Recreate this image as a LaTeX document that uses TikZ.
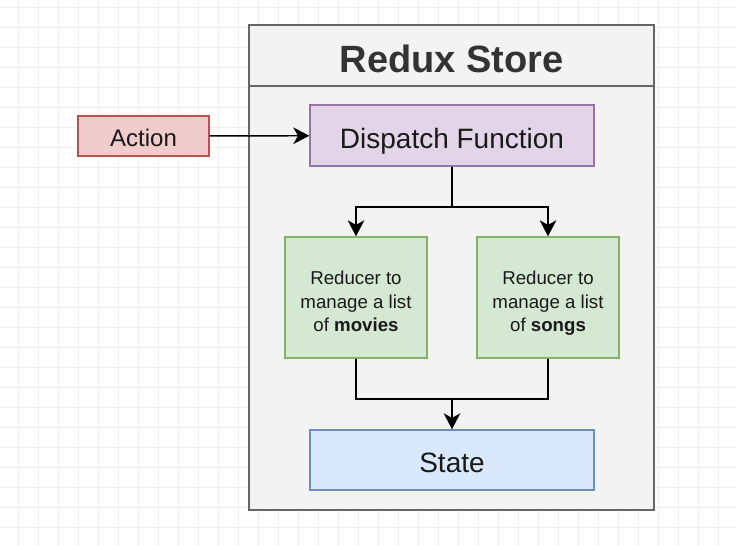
\documentclass[tikz,border=0pt]{standalone}
\usepackage{fontspec}
\setmainfont{Liberation Sans}
\usetikzlibrary{arrows.meta}
\newcommand{\lowered}[2]{\raisebox{-#1}[\height][\depth]{#2}}

\begin{document}
\begin{tikzpicture}[x=0.75pt,y=0.75pt,yscale=-1,xscale=1,
  box/.style={draw,line width=1.1pt,inner sep=0pt,align=center,text=black!90},
  oneline/.style={box,text depth=0pt},
  link/.style={line width=1.1pt},
  tip/.style={link,-{Stealth[length=12pt,width=12.5pt,inset=3.5pt]}}]
\useasboundingbox (0,0) rectangle (736,546);

%Background grid
\begin{scope}
\clip (0,0) rectangle (736,546);
\draw [color={rgb, 255:red, 238; green, 238; blue, 238 }, line width=0.6pt, shift={(18,7)}] (-40,-40) grid [step=20] (740,560);
\end{scope}

%Redux Store container
\draw [color={rgb, 255:red, 102; green, 102; blue, 102 }, fill={rgb, 255:red, 243; green, 243; blue, 243 }, line width=1.3pt] (249,25) rectangle (654,510);
\draw [color={rgb, 255:red, 102; green, 102; blue, 102 }, line width=1.3pt] (249,86) -- (654,86);

% Text Node
\node (title) at (451.5,59) [text={rgb, 255:red, 51; green, 51; blue, 51 }, font={\fontsize{28.5pt}{34pt}\selectfont\bfseries}] {Redux Store};

% Boxes
\node (action) at (143.5,136) [oneline, draw={rgb, 255:red, 184; green, 84; blue, 80 }, fill={rgb, 255:red, 240; green, 204; blue, 204 }, minimum width=98.25pt, minimum height=30pt, font={\fontsize{18pt}{22pt}\selectfont}] {\lowered{1.2pt}{Action}};
\node (dispatch) at (452,135.5) [oneline, draw={rgb, 255:red, 150; green, 115; blue, 166 }, fill={rgb, 255:red, 225; green, 213; blue, 231 }, minimum width=213pt, minimum height=45.75pt, font={\fontsize{21pt}{25pt}\selectfont}] {\lowered{2pt}{Dispatch Function}};
\node (movies) at (356,297.5) [box, draw={rgb, 255:red, 130; green, 179; blue, 102 }, fill={rgb, 255:red, 213; green, 232; blue, 212 }, minimum width=106.5pt, minimum height=90.75pt, font={\fontsize{14pt}{17.5pt}\selectfont}] {\lowered{4.5pt}{\begin{tabular}{@{}c@{}}Reducer to\\manage a list\\of \textbf{movies}\end{tabular}}};
\node (songs) at (548,297.5) [box, draw={rgb, 255:red, 130; green, 179; blue, 102 }, fill={rgb, 255:red, 213; green, 232; blue, 212 }, minimum width=106.5pt, minimum height=90.75pt, font={\fontsize{14pt}{17.5pt}\selectfont}] {\lowered{4.5pt}{\begin{tabular}{@{}c@{}}Reducer to\\manage a list\\of \textbf{songs}\end{tabular}}};
\node (state) at (452,460) [oneline, draw={rgb, 255:red, 108; green, 142; blue, 191 }, fill={rgb, 255:red, 218; green, 232; blue, 252 }, minimum width=213pt, minimum height=45pt, font={\fontsize{21pt}{25pt}\selectfont}] {\lowered{1.8pt}{State}};

%Connectors
\coordinate (split) at (452,207);
\coordinate (merge) at (452,399);
\draw [tip] (action) -- (dispatch);
\draw [link] (dispatch.south) -- (split);
\draw [tip] (split) -| (movies.north);
\draw [tip] (split) -| (songs.north);
\draw [link] (movies.south) |- (merge);
\draw [link] (songs.south) |- (merge);
\draw [tip] (merge) -- (state.north);

\end{tikzpicture}
\end{document}
